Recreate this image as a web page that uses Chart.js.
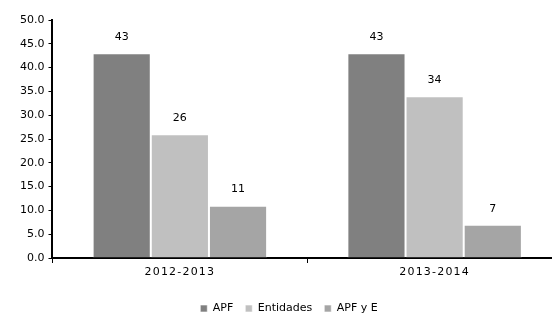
<!DOCTYPE html>
<html>
<head>
<meta charset="utf-8">
<script src="https://cdn.jsdelivr.net/npm/chart.js@4"></script>
<style>
html,body{margin:0;padding:0;background:#fff;overflow:hidden;}
#wrap{width:562px;height:316px;}
</style>
</head>
<body>
<div id="wrap"><canvas id="c" width="562" height="316"></canvas></div>
<script>
const categories = ["2012-2013", "2013-2014"];
const seriesNames = ["APF", "Entidades", "APF y E"];
const apf = [43, 43];
const entidades = [26, 34];
const apfYE = [11, 7];
const yTicks = [0, 5, 10, 15, 20, 25, 30, 35, 40, 45, 50];

const colors = ["#808080", "#c0c0c0", "#a5a5a5"];
const font = "'DejaVu Sans', Verdana, sans-serif";

const labelPlugin = {
  id: 'vals',
  afterLayout(chart) {
    const s = chart.scales.x;
    if (!s._lsPatched) {
      const orig = s.drawLabels;
      s.drawLabels = function (area) {
        const ctx = this.ctx;
        ctx.save();
        try { ctx.letterSpacing = '1.2px'; } catch (e) {}
        orig.call(this, area);
        ctx.restore();
      };
      s._lsPatched = true;
    }
  },
  afterDatasetsDraw(chart) {
    const ctx = chart.ctx;
    ctx.save();
    ctx.font = "11px " + font;
    ctx.fillStyle = "#000";
    ctx.textAlign = "center";
    ctx.textBaseline = "middle";
    chart.data.datasets.forEach((ds, i) => {
      chart.getDatasetMeta(i).data.forEach((bar, j) => {
        ctx.fillText(String(ds.data[j]), bar.x, bar.y - 16);
      });
    });
    ctx.restore();
  }
};

new Chart(document.getElementById('c'), {
  type: 'bar',
  data: {
    labels: categories,
    datasets: [
      {label: seriesNames[0], data: apf, backgroundColor: colors[0]},
      {label: seriesNames[1], data: entidades, backgroundColor: colors[1]},
      {label: seriesNames[2], data: apfYE, backgroundColor: colors[2]}
    ]
  },
  options: {
    responsive: false,
    animation: false,
    layout: {padding: {top: 20, left: 16, right: 0, bottom: -8}},
    datasets: {bar: {categoryPercentage: 0.685, barPercentage: 1, borderWidth: 1, borderColor: "rgba(255,255,255,0.6)"}},
    plugins: {
      legend: {
        position: 'bottom',
        labels: {boxWidth: 7, boxHeight: 7, font: {family: font, size: 11}, color: '#000', padding: 12}
      },
      tooltip: {enabled: false}
    },
    scales: {
      y: {
        min: 0, max: 50,
        afterBuildTicks(s) { s.ticks = yTicks.map(v => ({value: v})); },
        ticks: {font: {family: font, size: 11}, color: '#000', padding: 4, callback: v => Number(v).toFixed(1)},
        grid: {drawOnChartArea: false, color: '#000', tickLength: 4},
        border: {color: '#000', width: 2}
      },
      x: {
        afterFit(s) { s.height = 33; },
        ticks: {font: {family: font, size: 11}, color: '#000', padding: 3},
        grid: {drawOnChartArea: false, color: '#000', tickLength: 5, offset: true},
        border: {color: '#000', width: 2}
      }
    }
  },
  plugins: [labelPlugin]
});
</script>
</body>
</html>
